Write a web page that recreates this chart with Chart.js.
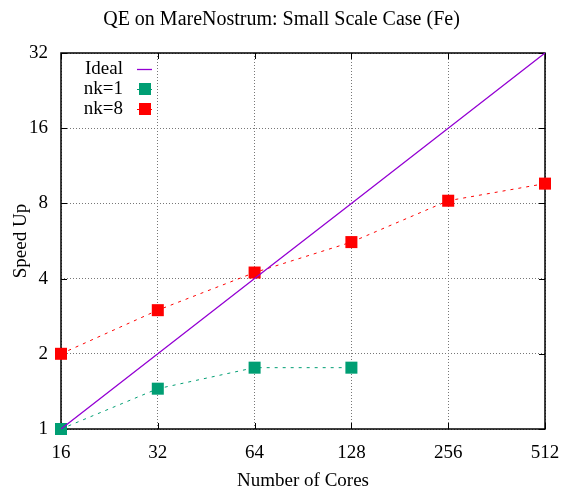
<!DOCTYPE html>
<html>
<head>
<meta charset="utf-8">
<script src="https://cdn.jsdelivr.net/npm/chart.js@4"></script>
<style>
  body { margin: 0; background: #fff; }
  #wrap { width: 563px; height: 488px; }
</style>
</head>
<body>
<div id="wrap"><canvas id="myChart" width="563" height="488"></canvas></div>
<script>
var cores = [16, 32, 64, 128, 256, 512];
var ideal = [1, 2, 4, 8, 16, 32];
var nk1 = [1, 1.45, 1.76, 1.76];
var nk8 = [2, 2.99, 4.23, 5.6, 8.2, 9.6];
var xTicks = [16, 32, 64, 128, 256, 512];
var yTicks = [1, 2, 4, 8, 16, 32];
var titulo = 'QE on MareNostrum: Small Scale Case (Fe)';

var fonte = 'Liberation Serif';
var tam = 19;

function pontos(valores) {
    var out = [];
    for (var i = 0; i < valores.length; i++) {
        out.push({ x: cores[i], y: valores[i] });
    }
    return out;
}

// moldura e marcas internas estilo gnuplot
var moldura = {
    id: 'moldura',
    beforeDatasetsDraw: function(chart) {
        var ctx = chart.ctx;
        var area = chart.chartArea;
        var xs = chart.scales.x, ys = chart.scales.y;
        ctx.save();
        ctx.strokeStyle = '#000';
        ctx.lineWidth = 1;
        xTicks.forEach(function(v) {
            var px = Math.round(xs.getPixelForValue(v)) + 0.5;
            ctx.beginPath();
            ctx.moveTo(px, area.bottom); ctx.lineTo(px, area.bottom - 6);
            ctx.moveTo(px, area.top); ctx.lineTo(px, area.top + 6);
            ctx.stroke();
        });
        yTicks.forEach(function(v) {
            var py = Math.round(ys.getPixelForValue(v)) + 0.5;
            ctx.beginPath();
            ctx.moveTo(area.left, py); ctx.lineTo(area.left + 6, py);
            ctx.moveTo(area.right, py); ctx.lineTo(area.right - 6, py);
            ctx.stroke();
        });
        ctx.lineWidth = 1.5;
        ctx.strokeRect(Math.round(area.left), Math.round(area.top),
            Math.round(area.right - area.left), Math.round(area.bottom - area.top));
        ctx.restore();
    },
    afterDraw: function(chart) {
        var ctx = chart.ctx;
        var area = chart.chartArea;
        ctx.save();
        ctx.fillStyle = '#000';
        ctx.font = '20px "' + fonte + '"';
        ctx.textAlign = 'center';
        ctx.textBaseline = 'middle';
        ctx.fillText(titulo, chart.width / 2, 20);

        // legenda
        ctx.font = tam + 'px "' + fonte + '"';
        ctx.textAlign = 'right';
        chart.data.datasets.forEach(function(ds, i) {
            var y = area.top + 16 + i * 20;
            ctx.fillStyle = '#000';
            ctx.fillText(ds.label, area.left + 62, y);
            ctx.strokeStyle = ds.borderColor;
            ctx.lineWidth = ds.borderWidth;
            ctx.beginPath();
            ctx.moveTo(area.left + 76, y + 0.5); ctx.lineTo(area.left + 91, y + 0.5);
            ctx.stroke();
            if (ds.pointRadius > 0) {
                ctx.fillStyle = ds.pointBackgroundColor;
                ctx.fillRect(area.left + 78, y - 6, 12, 12);
            }
        });
        ctx.restore();
    }
};

const ctx = document.getElementById('myChart').getContext('2d');
const myChart = new Chart(ctx, {
    type: 'line',
    data: {
        datasets: [{
            label: 'Ideal',
            data: pontos(ideal),
            borderColor: '#9400d3',
            borderWidth: 1.3,
            pointRadius: 0,
            clip: false,
            fill: false
        }, {
            label: 'nk=1',
            data: pontos(nk1),
            borderColor: '#009e73',
            borderWidth: 1,
            borderDash: [3, 5],
            pointStyle: 'rect',
            pointRadius: 8.5,
            pointBackgroundColor: '#009e73',
            pointBorderWidth: 0,
            clip: false,
            fill: false
        }, {
            label: 'nk=8',
            data: pontos(nk8),
            borderColor: '#ff0000',
            borderWidth: 1,
            borderDash: [3, 5],
            pointStyle: 'rect',
            pointRadius: 8.5,
            pointBackgroundColor: '#ff0000',
            pointBorderWidth: 0,
            clip: false,
            fill: false
        }]
    },
    options: {
        responsive: false,
        animation: false,
        layout: { padding: { top: 53, right: 18, left: 0, bottom: 0 } },
        plugins: {
            legend: { display: false },
            title: { display: false },
            tooltip: { enabled: false }
        },
        scales: {
            x: {
                type: 'logarithmic',
                min: 16, max: 512,
                afterBuildTicks: function(scale) {
                    scale.ticks = xTicks.map(function(v) { return { value: v }; });
                },
                afterFit: function(scale) {
                    scale.height = 59;
                    scale.paddingLeft = 0;
                    scale.paddingRight = 0;
                },
                ticks: {
                    color: '#000',
                    font: { family: fonte, size: tam },
                    padding: 13,
                    maxRotation: 0,
                    callback: function(v) { return String(v); }
                },
                grid: {
                    color: '#777',
                    drawTicks: false
                },
                border: { display: false, dash: [1, 2] },
                title: {
                    display: true,
                    text: 'Number of Cores',
                    color: '#000',
                    font: { family: fonte, size: tam },
                    padding: { top: 10, bottom: -4 }
                }
            },
            y: {
                type: 'logarithmic',
                min: 1, max: 32,
                afterBuildTicks: function(scale) {
                    scale.ticks = yTicks.map(function(v) { return { value: v }; });
                },
                afterFit: function(scale) {
                    scale.width = 61;
                    scale.paddingTop = 0;
                    scale.paddingBottom = 0;
                },
                ticks: {
                    color: '#000',
                    font: { family: fonte, size: tam },
                    padding: 13,
                    callback: function(v) { return String(v); }
                },
                grid: {
                    color: '#777',
                    drawTicks: false
                },
                border: { display: false, dash: [1, 2] },
                title: {
                    display: true,
                    text: 'Speed Up',
                    color: '#000',
                    font: { family: fonte, size: tam },
                    padding: { top: 10, bottom: 0 }
                }
            }
        }
    },
    plugins: [moldura]
});
</script>
</body>
</html>
